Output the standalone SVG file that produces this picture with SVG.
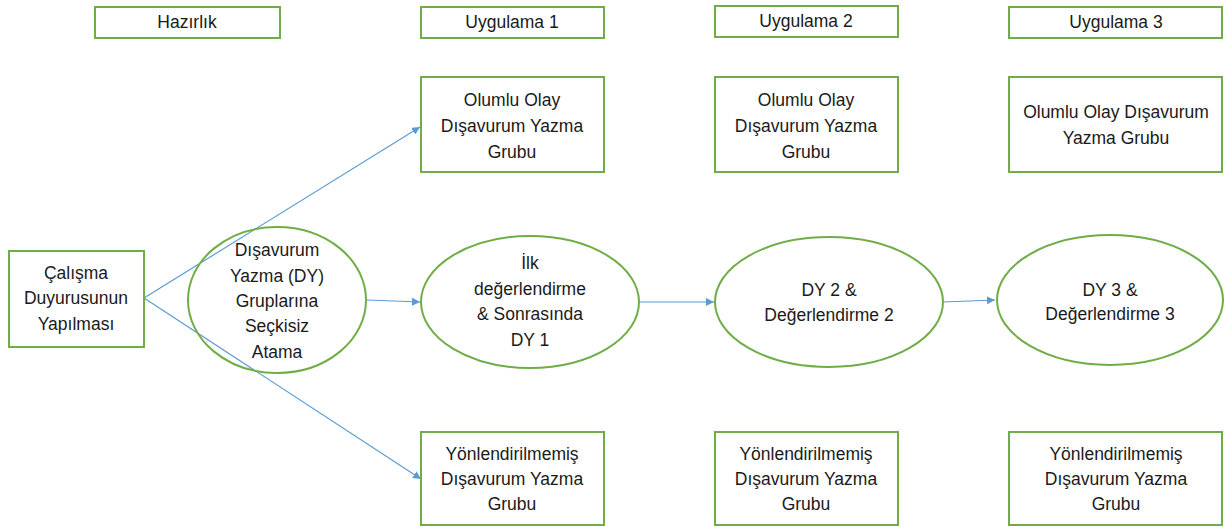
<svg xmlns="http://www.w3.org/2000/svg" width="1224" height="527" viewBox="0 0 1224 527">
<defs>
<marker id="arr" viewBox="0 0 10 10" refX="10" refY="5" markerWidth="8" markerHeight="8" markerUnits="userSpaceOnUse" orient="auto">
<path d="M0,0 L10,5 L0,10 z" fill="#5B9BD5"/>
</marker>
<style>
.box{fill:#fff;stroke:#70AD47;stroke-width:2}
.ell{fill:none;stroke:#70AD47;stroke-width:2}
.t{font-family:"Liberation Sans",Arial,sans-serif;font-size:17.5px;fill:#1a1a1a;text-anchor:middle}
.c{stroke:#5B9BD5;stroke-width:1.2;fill:none;marker-end:url(#arr)}
</style>
</defs>
<rect width="1224" height="527" fill="#fff"/>
<g id="connectors">
<line class="c" x1="144" y1="298" x2="420" y2="127"/>
<line class="c" x1="144" y1="298" x2="421" y2="479"/>
<line class="c" x1="367" y1="300" x2="420" y2="302"/>
<line class="c" x1="639" y1="302" x2="714" y2="302"/>
<line class="c" x1="943" y1="302" x2="995" y2="300"/>
</g>
<g id="hazirlik"><rect class="box" x="95" y="7" width="185" height="31"/><text class="t" x="187" y="28">Hazırlık</text></g>
<g id="uyg1"><rect class="box" x="421" y="7" width="183" height="31"/><text class="t" x="512" y="28">Uygulama 1</text></g>
<g id="uyg2"><rect class="box" x="715" y="6" width="183" height="31"/><text class="t" x="806" y="27">Uygulama 2</text></g>
<g id="uyg3"><rect class="box" x="1009" y="7" width="213" height="31"/><text class="t" x="1116" y="28">Uygulama 3</text></g>
<g id="olumlu1"><rect class="box" x="421" y="77" width="183" height="95"/><text class="t" x="512" y="106">Olumlu Olay</text><text class="t" x="512" y="132">Dışavurum Yazma</text><text class="t" x="512" y="158">Grubu</text></g>
<g id="olumlu2"><rect class="box" x="715" y="77" width="183" height="95"/><text class="t" x="806" y="106">Olumlu Olay</text><text class="t" x="806" y="132">Dışavurum Yazma</text><text class="t" x="806" y="158">Grubu</text></g>
<g id="olumlu3"><rect class="box" x="1009" y="77" width="213" height="95"/><text class="t" x="1116" y="118">Olumlu Olay Dışavurum</text><text class="t" x="1116" y="144">Yazma Grubu</text></g>
<g id="calisma"><rect class="box" x="9" y="251" width="135" height="96"/><text class="t" x="76" y="279">Çalışma</text><text class="t" x="76" y="304">Duyurusunun</text><text class="t" x="76" y="330">Yapılması</text></g>
<g id="atama"><ellipse class="ell" cx="277" cy="300" rx="89" ry="73"/><text class="t" x="277" y="256">Dışavurum</text><text class="t" x="277" y="282">Yazma (DY)</text><text class="t" x="277" y="307">Gruplarına</text><text class="t" x="277" y="332">Seçkisiz</text><text class="t" x="277" y="358">Atama</text></g>
<g id="dy1"><ellipse class="ell" cx="530" cy="302" rx="109" ry="66"/><text class="t" x="530" y="269">İlk</text><text class="t" x="530" y="295">değerlendirme</text><text class="t" x="530" y="320">&amp; Sonrasında</text><text class="t" x="530" y="346">DY 1</text></g>
<g id="dy2"><ellipse class="ell" cx="829" cy="302" rx="114" ry="65"/><text class="t" x="829" y="296">DY 2 &amp;</text><text class="t" x="829" y="321">Değerlendirme 2</text></g>
<g id="dy3"><ellipse class="ell" cx="1110" cy="300" rx="113" ry="65"/><text class="t" x="1110" y="296">DY 3 &amp;</text><text class="t" x="1110" y="320">Değerlendirme 3</text></g>
<g id="yon1"><rect class="box" x="421" y="432" width="183" height="93"/><text class="t" x="512" y="460">Yönlendirilmemiş</text><text class="t" x="512" y="485">Dışavurum Yazma</text><text class="t" x="512" y="510">Grubu</text></g>
<g id="yon2"><rect class="box" x="715" y="432" width="183" height="93"/><text class="t" x="806" y="460">Yönlendirilmemiş</text><text class="t" x="806" y="485">Dışavurum Yazma</text><text class="t" x="806" y="510">Grubu</text></g>
<g id="yon3"><rect class="box" x="1009" y="432" width="213" height="93"/><text class="t" x="1116" y="460">Yönlendirilmemiş</text><text class="t" x="1116" y="485">Dışavurum Yazma</text><text class="t" x="1116" y="510">Grubu</text></g>
</svg>
